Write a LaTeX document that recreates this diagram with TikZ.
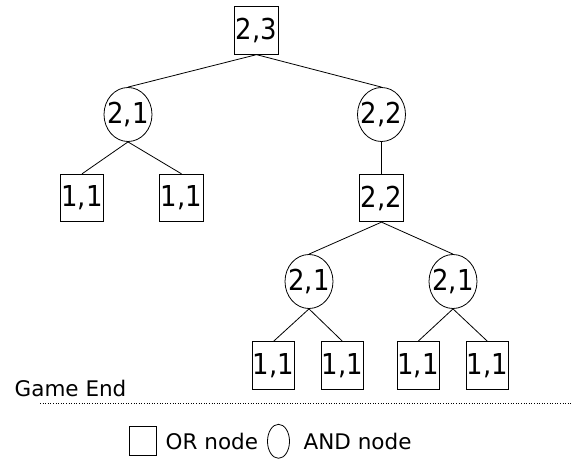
\documentclass[tikz,border=0pt]{standalone}
\usepackage{fontspec}
\setmainfont{DejaVu Sans}
\newfontfamily\condfont{DejaVu Sans Condensed}
\usetikzlibrary{shapes.geometric}
\begin{document}
\begin{tikzpicture}[x=1pt,y=-1pt,
  ornode/.style={draw, rectangle, line width=0.8pt, minimum width=43.5pt, minimum height=47.5pt, inner sep=0pt, font=\condfont\fontsize{28.8}{28.8}\selectfont},
  andnode/.style={draw, ellipse, line width=0.8pt, minimum width=48pt, minimum height=54pt, inner sep=0pt, font=\condfont\fontsize{28.8}{28.8}\selectfont},
  edge/.style={line width=0.8pt},
  lbl/.style={font=\fontsize{21.5}{21.5}\selectfont, inner sep=0pt}]
\useasboundingbox (0,0) rectangle (571,462);
\node[ornode] (r) at (256.5,30.5) {2,3};
\node[andnode] (a1) at (128,114.5) {\makebox[0pt]{2,1}};
\node[andnode] (a2) at (381.5,114.5) {\makebox[0pt]{2,2}};
\node[ornode] (l1) at (82,198) {1,1};
\node[ornode] (l2) at (181.5,198) {1,1};
\node[ornode] (o2) at (381.5,198) {2,2};
\node[andnode] (b1) at (309,281.5) {\makebox[0pt]{2,1}};
\node[andnode] (b2) at (453,281.5) {\makebox[0pt]{2,1}};
\node[ornode, minimum width=42pt] (m1) at (273.5,365.5) {1,1};
\node[ornode, minimum width=42pt] (m2) at (342.5,365.5) {1,1};
\node[ornode, minimum width=42pt] (m3) at (418,365.5) {1,1};
\node[ornode, minimum width=42pt] (m4) at (487.5,365.5) {1,1};
\draw[edge] (r.south) -- (a1.north);
\draw[edge] (r.south) -- (a2.north);
\draw[edge] (a1.south) -- (l1.north);
\draw[edge] (a1.south) -- (l2.north);
\draw[edge] (a2.south) -- (o2.north);
\draw[edge] (o2.south) -- (b1.north);
\draw[edge] (o2.south) -- (b2.north);
\draw[edge] (b1.south) -- (m1.north);
\draw[edge] (b1.south) -- (m2.north);
\draw[edge] (b2.south) -- (m3.north);
\draw[edge] (b2.south) -- (m4.north);
\node[lbl, anchor=base west] (ge) at (14.5,396.7) {Game End};
\coordinate (d1) at (40,403.3);
\coordinate (d2) at (571,403.3);
\draw[line width=0.6pt, dotted] (d1) -- (d2);
\node[draw, rectangle, line width=0.8pt, minimum width=27pt, minimum height=29pt, inner sep=0pt] (lgor) at (143,441.3) {};
\node[lbl, anchor=base west] (tor) at (165.5,450) {OR node};
\node[draw, ellipse, line width=0.8pt, minimum width=22pt, minimum height=34pt, inner sep=0pt] (lgand) at (278.5,441.3) {};
\node[lbl, anchor=base west] (tand) at (303.5,450) {AND node};
\end{tikzpicture}
\end{document}
